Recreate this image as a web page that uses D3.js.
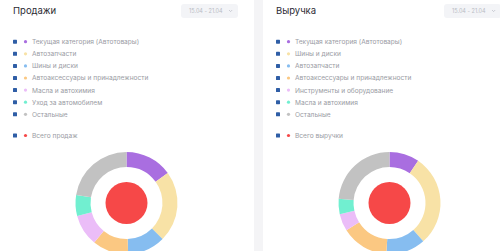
<!DOCTYPE html>
<html><head><meta charset="utf-8">
<script src="https://cdn.jsdelivr.net/npm/d3@7"></script>
<style>
html,body{margin:0;padding:0;background:#fff;overflow:hidden;}
svg{display:block;font-family:Inter, "Open Sans", sans-serif;}
</style></head>
<body>
<svg id="c" width="500" height="251"></svg>
<script>
const titles = ["Продажи", "Выручка"];
const dateLabel = "15.04 - 21.04";
const salesCategories = ["Текущая категория (Автотовары)", "Автозапчасти", "Шины и диски", "Автоаксессуары и принадлежности", "Масла и автохимия", "Уход за автомобилем", "Остальные"];
const salesValues = [15, 22.5, 12, 11.4, 10, 6.6, 22.5];
const salesTotalLabel = "Всего продаж";
const revenueCategories = ["Текущая категория (Автотовары)", "Шины и диски", "Автозапчасти", "Автоаксессуары и принадлежности", "Инструменты и оборудование", "Масла и автохимия", "Остальные"];
const revenueValues = [9.5, 29, 12.5, 15, 5.5, 4.8, 23.7];
const revenueTotalLabel = "Всего выручки";
const sliceColors = ["#a96ee0", "#f8e2a6", "#86bdf0", "#fbc882", "#ebbdf8", "#71efd0", "#c2c2c2"];
const totalColor = "#f64848";

const svg = d3.select("#c");
svg.append("rect").attr("width",500).attr("height",251).attr("fill","#fff");
svg.append("rect").attr("x",254).attr("y",0).attr("width",9).attr("height",251).attr("fill","#f4f4f6");

const panels = [
  {x:0, title:titles[0], cats:salesCategories, vals:salesValues, total:salesTotalLabel},
  {x:263, title:titles[1], cats:revenueCategories, vals:revenueValues, total:revenueTotalLabel}
];

const pie = d3.pie().sort(null).value(d=>d);
const arc = d3.arc().innerRadius(36).outerRadius(51);

panels.forEach(p=>{
  const g = svg.append("g").attr("transform",`translate(${p.x},0)`);
  g.append("text").attr("x",13).attr("y",14).attr("font-size",9.5).attr("fill","#2b2b33").text(p.title);
  const btn = g.append("g").attr("transform","translate(181,4)");
  btn.append("rect").attr("width",57).attr("height",14).attr("rx",3).attr("fill","#f3f4f7");
  btn.append("text").attr("x",8).attr("y",9.3).attr("font-size",5.5).attr("fill","#b9bcc4").text(dateLabel);
  btn.append("path").attr("d","M48,6 l1.6,1.6 l1.6,-1.6").attr("fill","none").attr("stroke","#b9bcc4").attr("stroke-width",0.7);

  const y = d3.scalePoint().domain(d3.range(p.cats.length)).range([41.7, 114.3]);
  const items = p.cats.map((c,i)=>({label:c, color:sliceColors[i], y:y(i)}));
  items.push({label:p.total, color:totalColor, y:135.5});
  const rows = g.selectAll("g.row").data(items).join("g").attr("class","row")
    .attr("transform",d=>`translate(0,${d.y})`);
  rows.append("rect").attr("x",13).attr("y",-2).attr("width",4).attr("height",4).attr("rx",0.6).attr("fill","#2f5ea6");
  rows.append("circle").attr("cx",25.5).attr("cy",0).attr("r",1.6).attr("fill",d=>d.color);
  rows.append("text").attr("x",32).attr("y",2.4).attr("font-size",6.6).attr("fill","#9a9ca4").text(d=>d.label);

  const dg = g.append("g").attr("transform","translate(126.5,203)");
  dg.selectAll("path").data(pie(p.vals)).join("path").attr("d",arc).attr("fill",(d,i)=>sliceColors[i]);
  dg.append("circle").attr("r",21).attr("fill",totalColor);
});
</script>
</body></html>
